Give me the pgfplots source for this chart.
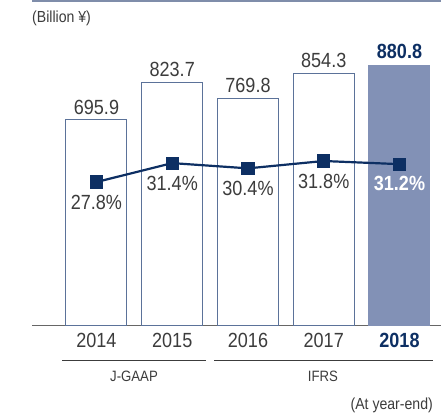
\documentclass[border=0pt]{standalone}
\usepackage{fontspec}
\setmainfont{Liberation Sans}[FakeStretch=0.88]
\usepackage{pgfplots}
\pgfplotsset{compat=1.18}

\definecolor{barline}{HTML}{5B7299}
\definecolor{barfill}{HTML}{8291B6}
\definecolor{navy}{HTML}{0D2F63}
\definecolor{txt}{HTML}{3C3C3C}
\definecolor{rulec}{HTML}{7F8DAA}

\begin{document}
\begin{tikzpicture}
\path[use as bounding box] (0,0) rectangle (441pt,418pt);
\draw[rulec, line width=2pt] (32pt,417pt) -- (441pt,417pt);
\node[anchor=west, inner sep=0pt, font=\fontsize{16}{16}\selectfont, text=txt] at (32pt,400pt) {(Billion ¥)};

% bars
\begin{axis}[
    at={(32pt,93pt)}, anchor=south west,
    scale only axis, width=409pt, height=285pt,
    xmin=-0.851, xmax=4.548, ymin=0, ymax=967.4,
    axis x line*=bottom, axis y line=none,
    x axis line style={draw=gray!80!black, line width=1pt, -},
    xtick={0,1,2,3,4},
    xticklabels={2014,2015,2016,2017,{\textcolor{navy}{\bfseries 2018}}},
    major tick length=0pt,
    xticklabel style={font=\fontsize{20.5}{20}\selectfont, text=txt, anchor=north, inner sep=0pt, yshift=-8pt},
    /pgf/number format/assume math mode=true,
    clip=false,
]
\addplot[ybar, bar width=61pt, bar shift=0pt, draw=barline, fill=white, line width=1pt,
    nodes near coords, point meta=y,
    nodes near coords style={font=\fontsize{20.5}{20}\selectfont, text=txt, anchor=south, inner sep=0pt, yshift=5pt,
        /pgf/number format/.cd, fixed, fixed zerofill, precision=1}]
    coordinates {(0,695.9) (1,823.7) (2,769.8) (3,854.3)};
\addplot[ybar, bar width=61pt, bar shift=0pt, draw=barfill, fill=barfill, line width=1pt,
    nodes near coords, point meta=y,
    nodes near coords style={font=\fontsize{20.5}{20}\selectfont\bfseries, text=navy, anchor=south, inner sep=0pt, yshift=6pt,
        /pgf/number format/.cd, fixed, fixed zerofill, precision=1}]
    coordinates {(4,880.8)};
\end{axis}

% ratio line
\begin{axis}[
    at={(32pt,93pt)}, anchor=south west,
    scale only axis, width=409pt, height=285pt,
    xmin=-0.851, xmax=4.548, ymin=0.562, ymax=54.85,
    axis lines=none,
    /pgf/number format/assume math mode=true,
    clip=false,
]
\addplot[navy, line width=2.2pt, mark=square*, mark size=5.5pt, mark options={solid}]
    coordinates {(0,27.8) (1,31.4) (2,30.4) (3,31.8) (4,31.2)};
\addplot[draw=none, mark=none, nodes near coords={\pgfmathprintnumber{\pgfplotspointmeta}\%}, point meta=y,
    nodes near coords style={font=\fontsize{20.5}{20}\selectfont, text=txt, anchor=north, inner sep=0pt, yshift=-13pt,
        /pgf/number format/.cd, fixed, fixed zerofill, precision=1}]
    coordinates {(0,27.8) (1,31.4) (2,30.4) (3,31.8)};
\addplot[draw=none, mark=none, nodes near coords={\pgfmathprintnumber{\pgfplotspointmeta}\%}, point meta=y,
    nodes near coords style={font=\fontsize{20.5}{20}\selectfont\bfseries, text=white, anchor=north, inner sep=0pt, yshift=-12pt,
        /pgf/number format/.cd, fixed, fixed zerofill, precision=1}]
    coordinates {(4,31.2)};
\end{axis}

% accounting standard brackets
\draw[txt, line width=1pt] (62pt,58pt) -- (206pt,58pt);
\draw[txt, line width=1pt] (214pt,58pt) -- (433pt,58pt);
\node[font=\fontsize{15}{15}\selectfont, text=txt, inner sep=0pt] at (134pt,42pt) {J-GAAP};
\node[font=\fontsize{15}{15}\selectfont, text=txt, inner sep=0pt] at (323pt,42pt) {IFRS};
\node[anchor=east, font=\fontsize{16}{16}\selectfont, text=txt, inner sep=0pt] at (433pt,13pt) {(At year-end)};
\end{tikzpicture}
\end{document}
